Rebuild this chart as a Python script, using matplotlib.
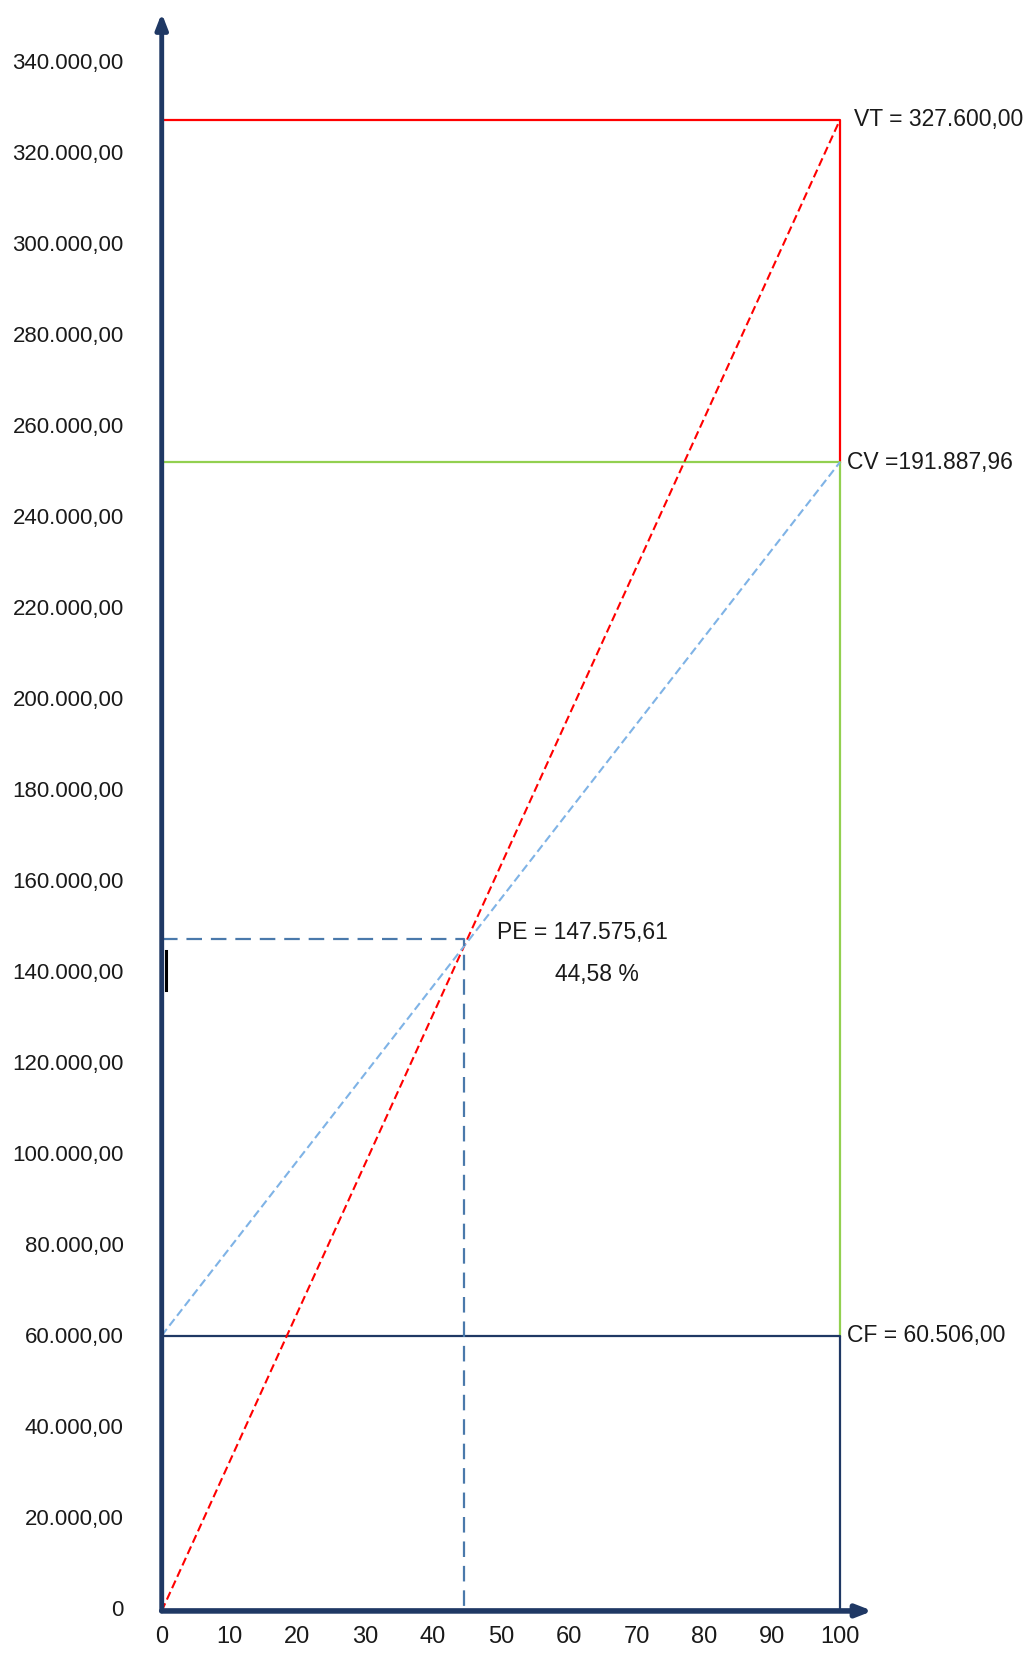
import matplotlib.pyplot as plt
import numpy as np

plt.rcParams['font.family'] = ['Liberation Sans', 'DejaVu Sans']

# break-even values
qty = [0, 100]
vt = 327600.00      # total sales
cv = 191887.96      # variable costs
cf = 60506.00       # fixed costs
pe = 147575.61      # break-even point
pe_pct = 44.58
ct = cf + cv        # total costs

y_ticks = list(range(0, 340001, 20000))
x_ticks = list(range(0, 101, 10))


def fmt_br(v):
    if v == 0:
        return "0"
    s = "{:,.2f}".format(v)
    return s.replace(",", "X").replace(".", ",").replace("X", ".")


fig = plt.figure(figsize=(10.36, 16.57), dpi=100)
ax = fig.add_axes([0.1561, 0.0278, 0.6547, 0.934])
ax.set_xlim(0, 100)
ax.set_ylim(0, 340000)
for s in ax.spines.values():
    s.set_visible(False)
ax.set_xticks([])
ax.set_yticks([])

red = '#ff0000'
green = '#92d050'
navy = '#1f3864'
lblue = '#7fb3e6'
steel = '#4a79ab'
txt = '#1a1a1a'

# rectangles
ax.plot([0, 0, 100, 100], [ct, vt, vt, ct], color=red, lw=1.6, clip_on=False)
ax.plot([0, 0, 100, 100], [cf, ct, ct, cf], color=green, lw=1.6, clip_on=False)
ax.plot([0, 0, 100, 100], [0, cf, cf, 0], color=navy, lw=1.6, clip_on=False)

# revenue and cost lines
ax.plot(qty, [0, vt], color=red, lw=1.5, ls=(0, (4, 2)), clip_on=False)
ax.plot(qty, [cf, ct], color=lblue, lw=1.5, ls=(0, (4, 2)), clip_on=False)

# break-even guides
ax.plot([0, pe_pct, pe_pct], [pe, pe, 0], color=steel, lw=1.6, ls=(0, (7, 4)), clip_on=False)

# small mark on the axis
ax.plot([0.63, 0.63], [136400, 145000], color='black', lw=2.2, clip_on=False)

# axes with arrows
ax.annotate('', xy=(0, 351000), xytext=(0, 0),
            arrowprops=dict(arrowstyle='-|>,head_width=0.35,head_length=0.9',
                            color=navy, lw=3.5, shrinkA=0, shrinkB=0),
            annotation_clip=False)
ax.annotate('', xy=(104.8, 0), xytext=(0, 0),
            arrowprops=dict(arrowstyle='-|>,head_width=0.35,head_length=0.9',
                            color=navy, lw=4, shrinkA=0, shrinkB=0),
            annotation_clip=False)

# tick labels
for v in y_ticks:
    ax.text(-5.6, v, fmt_br(v), ha='right', va='center', fontsize=16, color=txt)
for v in x_ticks:
    ax.text(v, -5800, str(v), ha='center', va='center', fontsize=17, color=txt)

# annotations
ax.text(102.1, vt, "VT = 327.600,00", ha='left', va='center', fontsize=16.5, color=txt)
ax.text(101.1, ct, "CV =191.887,96", ha='left', va='center', fontsize=16.5, color=txt)
ax.text(101.1, cf, "CF = 60.506,00", ha='left', va='center', fontsize=16.5, color=txt)
ax.text(49.4, 149100, "PE = 147.575,61", ha='left', va='center', fontsize=16.5, color=txt)
ax.text(58.0, 139800, "44,58 %", ha='left', va='center', fontsize=16.5, color=txt)

fig.savefig('out.png', dpi=100)
